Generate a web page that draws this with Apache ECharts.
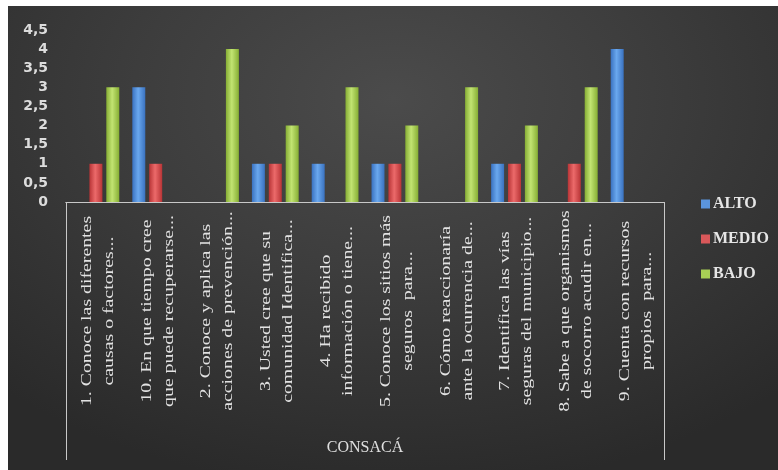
<!DOCTYPE html>
<html>
<head>
<meta charset="utf-8">
<script src="https://cdn.jsdelivr.net/npm/echarts@6/dist/echarts.min.js"></script>
<style>
  html, body { margin: 0; padding: 0; background: #ffffff; }
  #chart {
    position: absolute; left: 8px; top: 6px; width: 770px; height: 464px;
    background: radial-gradient(ellipse 75% 85% at 50% 20%, #4b4b4b 0%, #3d3d3d 45%, #2a2a2a 100%);
  }
</style>
</head>
<body>
<div id="chart"></div>
<script>
// ---- data ----
var categories = [
  '1. Conoce las diferentes\ncausas o factores...',
  '10. En que tiempo cree\nque puede recuperarse...',
  '2. Conoce y aplica las\nacciones de prevención...',
  '3. Usted cree que su\ncomunidad Identifica...',
  '4. Ha recibido\ninformación o tiene...',
  '5. Conoce los sitios más\nseguros  para...',
  '6. Cómo reaccionaría\nante la ocurrencia de...',
  '7. Identifica las vías\nseguras del municipio...',
  '8. Sabe a que organismos\nde socorro acudir en...',
  '9. Cuenta con recursos\npropios  para...'
];
var groupLabel = ['CONSACÁ'];
var seriesNames = ['ALTO', 'MEDIO', 'BAJO'];
var alto  = [0, 3, 0, 1, 1, 1, 0, 1, 0, 4];
var medio = [1, 1, 0, 1, 0, 1, 0, 1, 1, 0];
var bajo  = [3, 0, 4, 2, 3, 2, 3, 2, 3, 0];
var yMin = 0, yMax = 4.5, yStep = 0.5;

function grad(dark, light) {
  return new echarts.graphic.LinearGradient(0, 0, 1, 0, [
    { offset: 0, color: dark },
    { offset: 0.45, color: light },
    { offset: 1, color: dark }
  ]);
}
var colors = [
  grad('#3a72c0', '#6aa8ee'),
  grad('#b83436', '#ec6a6a'),
  grad('#86ae34', '#c2e472')
];
var legendColors = ['#5b95dd', '#d9585a', '#a8cf55'];

var chart = echarts.init(document.getElementById('chart'));
var serif = 'Liberation Serif';

var barSeries = [alto, medio, bajo].map(function (d, i) {
  return {
    name: seriesNames[i],
    type: 'bar',
    xAxisIndex: 0,
    data: d,
    barWidth: 13,
    barGap: '30%',
    itemStyle: { color: colors[i] }
  };
});

// category labels drawn through the category axis scale
var labelSeries = {
  type: 'custom',
  name: 'labels',
  xAxisIndex: 0,
  silent: true,
  clip: false,
  data: categories.map(function (c, i) { return [i, 0]; }),
  renderItem: function (params, api) {
    var p = api.coord([api.value(0), 0]);
    return {
      type: 'text',
      x: p[0] + 2,
      y: p[1] + 109,
      rotation: Math.PI / 2,
      scaleX: 1.32,
      style: {
        text: categories[params.dataIndex],
        align: 'center',
        verticalAlign: 'middle',
        fill: '#e2e2e2',
        font: '15px "Liberation Serif", serif',
        lineHeight: 22
      }
    };
  }
};

chart.setOption({
  animation: false,
  backgroundColor: 'transparent',
  legend: {
    orient: 'vertical',
    left: 688,
    top: 185,
    itemWidth: 9,
    itemHeight: 9,
    itemGap: 19,
    icon: 'rect',
    textStyle: { color: '#e6e6e6', fontFamily: serif, fontSize: 16, fontWeight: 'bold', padding: [0, 0, 0, -2] },
    data: seriesNames.map(function (n, i) {
      return { name: n, itemStyle: { color: legendColors[i] } };
    })
  },
  grid: { left: 58, right: 114, top: 24, bottom: 268, containLabel: false },
  xAxis: [
    {
      type: 'category',
      data: categories,
      axisLine: { show: true, lineStyle: { color: '#c8c8c8', width: 1 } },
      axisTick: { show: false },
      axisLabel: { show: false }
    },
    {
      type: 'category',
      data: groupLabel,
      position: 'bottom',
      axisLine: { show: true, lineStyle: { color: '#c8c8c8', width: 1 } },
      axisTick: { show: true, length: 258, lineStyle: { color: '#c8c8c8', width: 1 } },
      axisLabel: { margin: 238, color: '#e0e0e0', fontFamily: serif, fontSize: 16 }
    }
  ],
  yAxis: {
    type: 'value',
    min: yMin, max: yMax, interval: yStep,
    axisLine: { show: false },
    axisTick: { show: false },
    splitLine: { show: false },
    axisLabel: {
      margin: 18,
      color: '#dcdcdc',
      fontSize: 14,
      fontWeight: 'bold',
      fontFamily: 'DejaVu Sans',
      formatter: function (v) { return String(v).replace('.', ','); }
    }
  },
  series: barSeries.concat([labelSeries])
});
</script>
</body>
</html>
